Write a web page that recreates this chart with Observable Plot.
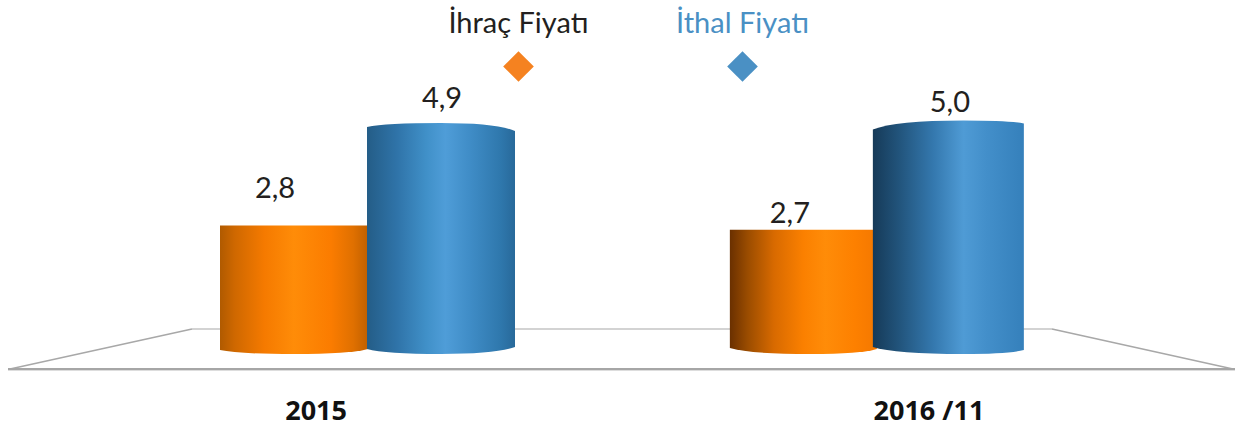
<!DOCTYPE html>
<html lang="tr">
<head>
<meta charset="utf-8">
<style>html,body{margin:0;padding:0;background:#fff}</style>
<script src="https://cdn.jsdelivr.net/npm/d3@7"></script>
<script src="https://cdn.jsdelivr.net/npm/@observablehq/plot@0.6"></script>
</head>
<body>
<script>
const periods = ["2015", "2016 /11"];
const seriesNames = ["İhraç Fiyatı", "İthal Fiyatı"];
const exportPrices = [2.8, 2.7];
const importPrices = [4.9, 5.0];
const valueLabels = ["2,8", "2,7", "4,9", "5,0"];

const rows = [
  ...periods.map((p, i) => ({period: p, series: seriesNames[0], value: exportPrices[i], label: valueLabels[i]})),
  ...periods.map((p, i) => ({period: p, series: seriesNames[1], value: importPrices[i], label: valueLabels[i + 2]}))
];

// Styling: gradient stops and the perspective of each cylinder, in row order
const gradients = [
  [[0,"#b05a00"],[.1,"#cf6800"],[.3,"#f57a00"],[.5,"#ff8c08"],[.75,"#fb7c00"],[.9,"#e07000"],[1,"#c06000"]],
  [[0,"#6a3000"],[.12,"#9a4c00"],[.3,"#d86a00"],[.5,"#fb8000"],[.65,"#ff8c08"],[.85,"#fd8000"],[1,"#f47800"]],
  [[0,"#245d87"],[.2,"#2f73a8"],[.4,"#4090c8"],[.53,"#4f9dd8"],[.7,"#3f8cc6"],[.9,"#2f78ad"],[1,"#28699a"]],
  [[0,"#163a58"],[.18,"#22557d"],[.4,"#3478ae"],[.6,"#4f9bd5"],[.75,"#438fca"],[1,"#3580bb"]]
];
// offsets of the end curves: t/b = [left, peak, right], px = peak position, grow = left widening
const shapes = [
  {t:[0,0,0],    b:[0,4,-1],  px:.5,  grow:1},
  {t:[0,0,0],    b:[-2,4,-1], px:.55, grow:0},
  {t:[-5,-9,-1], b:[-1,4,-3], px:.5,  grow:1},
  {t:[2,-7,-4],  b:[-3,4,0],  px:.6,  grow:4}
];
const nudges = [[-20,-37],[-14,-17],[0,-34],[-1,-25]];

function cylinders(index, scales, values, dims, ctx, next) {
  const g = next(index, scales, values, dims, ctx);
  const rects = Array.from(g.querySelectorAll("rect"));
  rects.forEach((r, k) => {
    const s = shapes[index[k]];
    const x0 = +r.getAttribute("x") - s.grow, x1 = +r.getAttribute("x") + +r.getAttribute("width");
    const y0 = +r.getAttribute("y"), y1 = y0 + +r.getAttribute("height");
    const xp = x0 + (x1 - x0) * s.px;
    const curve = (yp, yb, xa, xb, base) =>
      `Q${xa + (xp - xa) * .25},${base + yp} ${xp},${base + yp}Q${xb + (xp - xb) * .25},${base + yp} ${xb},${base + yb}`;
    const path = document.createElementNS("http://www.w3.org/2000/svg", "path");
    path.setAttribute("d",
      `M${x0},${y0 + s.t[0]}` + curve(s.t[1], s.t[2], x0, x1, y0) +
      `L${x1},${y1 + s.b[2]}` + curve(s.b[1], s.b[0], x1, x0, y1) + "Z");
    path.setAttribute("fill", r.getAttribute("fill"));
    r.replaceWith(path);
  });
  return g;
}

function floorRender() {
  const g = d3.create("svg:g").attr("fill", "none");
  g.append("defs").call(defs => gradients.forEach((stops, i) => {
    const lg = defs.append("linearGradient").attr("id", "cyl" + i);
    stops.forEach(([o, c]) => lg.append("stop").attr("offset", o).attr("stop-color", c));
  }));
  g.append("path").attr("d", "M192,329H1052").attr("stroke", "#c4c4c4").attr("stroke-width", 1.5);
  g.append("path").attr("d", "M192,329L10,369M1052,329L1233,369").attr("stroke", "#a8a8a8").attr("stroke-width", 1.5);
  g.append("path").attr("d", "M8,369H1235").attr("stroke", "#a6a6a6").attr("stroke-width", 2);
  g.append("path").attr("d", "M8,370.5H1235").attr("stroke", "#dddddd").attr("stroke-width", 1);
  return g.node();
}

const valueText = (d, i) => Plot.text([d], {
  fx: "period", x: "series", y: "value", text: "label",
  dx: nudges[i][0], dy: nudges[i][1],
  fontSize: 29, fill: "#231f20", fontFamily: "Lato"
});

// Legend layers sit in the frame of the first facet, which starts 220px in
const legendText = (name, i) => Plot.text([name], {
  frameAnchor: "top-left", textAnchor: "middle", lineAnchor: "middle", facet: "super", dx: [298, 522][i], dy: 23,
  fontSize: 29, fontFamily: "Lato", fill: ["#231f20", "#4a90c4"][i]
});
const legendDot = (name, i) => Plot.dot([name], {
  frameAnchor: "top-left", facet: "super", dx: [298, 522][i], dy: 66,
  symbol: "diamond2", r: 13.8, fill: ["#f58220", "#4a90c4"][i], stroke: "none"
});
const axisLabel = (p, i) => Plot.text([p], {
  fx: d => d, frameAnchor: "top", lineAnchor: "middle", dx: [-52, 52][i], dy: 411,
  fontSize: 27, fontWeight: "bold", fontFamily: "Open Sans", fill: "#111"
});

const chart = Plot.plot({
  width: 1235,
  height: 430,
  margin: 0,
  style: {background: "#fff"},
  x: {domain: seriesNames, padding: 0, axis: null},
  y: {domain: [0, 5], range: [350, 127.5], axis: null},
  fx: {domain: periods, range: [220, 1024], paddingInner: 0.42, paddingOuter: 0, axis: null, round: false},
  marks: [
    Plot.dot([0], {facet: "super", frameAnchor: "top-left", render: floorRender}),
    Plot.barY(rows, {
      fx: "period", x: "series", y: "value",
      fill: d => `url(#cyl${rows.indexOf(d)})`,
      render: cylinders
    }),
    ...rows.map(valueText),
    ...seriesNames.map(legendText),
    ...seriesNames.map(legendDot),
    ...periods.map(axisLabel)
  ]
});
document.body.appendChild(chart);
</script>
</body>
</html>
